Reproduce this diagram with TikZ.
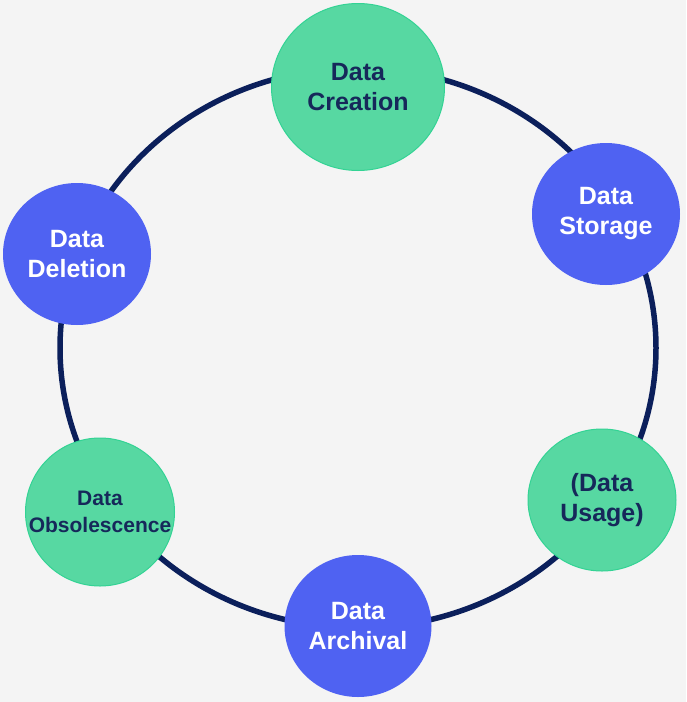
\documentclass[tikz,border=0pt]{standalone}
\usepackage{fontspec}
\setmainfont{Liberation Sans}
\usetikzlibrary{shapes.geometric}
\definecolor{bgcol}{HTML}{F4F4F4}
\definecolor{ringcol}{HTML}{0B1F5B}
\definecolor{mint}{HTML}{57D8A2}
\definecolor{mintedge}{HTML}{33D394}
\definecolor{royal}{HTML}{4F62F2}
\definecolor{navytext}{HTML}{16285A}

\begin{document}
\begin{tikzpicture}[x=1pt, y=-1pt,
		phase/.style={ellipse, inner sep=0pt, align=center, font=\bfseries\fontsize{25}{30}\selectfont},
		greenphase/.style={phase, fill=mint, draw=mintedge, line width=1pt, text=navytext},
		bluephase/.style={phase, fill=royal, text=white}]
		%%%%% START %%%%%
		
		\fill[bgcol] (0, 0) rectangle (686, 702);
		
		% the cycle
		\draw[line width=5.5pt, color=ringcol] (358, 348) ellipse [x radius=298, y radius=280];
		
		% the phases
		\node[greenphase, minimum width=173pt, minimum height=167pt] (creation) at (358, 87) {Data\\Creation};
		\node[bluephase, minimum width=148pt, minimum height=142pt] (storage) at (606, 214) {Data\\Storage};
		\node[greenphase, minimum width=148pt, minimum height=142pt] (usage) at (602, 500) {(Data\\Usage)};
		\node[bluephase, minimum width=147pt, minimum height=142pt] (archival) at (358, 626) {Data\\Archival};
		\node[greenphase, inner xsep=-20pt, minimum width=149pt, minimum height=148pt, font=\bfseries\fontsize{21}{27}\selectfont] (obsolescence) at (100, 512) {Data\\Obsolescence};
		\node[bluephase, minimum width=148pt, minimum height=142pt] (deletion) at (77, 254) {Data\\Deletion};
		
		%%%%% END %%%%%
\end{tikzpicture}
\end{document}
